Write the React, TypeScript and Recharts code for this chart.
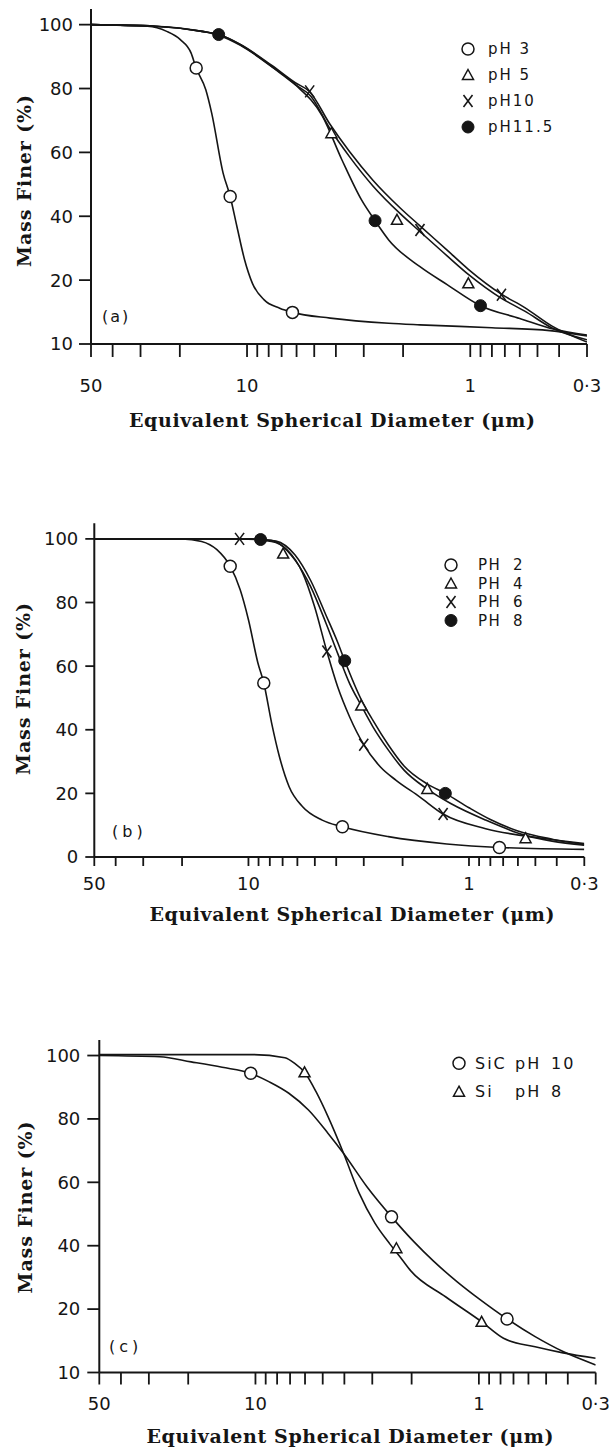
import React from "react";
import { ComposedChart, Line, Scatter, XAxis, YAxis } from "recharts";

// [diameter (µm), mass finer (%)] pairs
type Pt = [number, number];

const diameterTicks = [50, 40, 30, 20, 10, 9, 8, 7, 6, 5, 4, 3, 2, 1, 0.9, 0.8, 0.7, 0.6, 0.5, 0.4, 0.3];
const diameterLabels: Record<string, string> = { "50": "50", "10": "10", "1": "1", "0.3": "0·3" };
const massTicks = [0, 20, 40, 60, 80, 100];

// === (a) ===
const aPh3Curve: Pt[] = [[50, 100], [27.9, 99.5], [22.9, 97.9], [19.9, 95.3], [17.8, 91.1], [16.9, 86.4], [15.3, 79.6], [14.4, 72.3], [12.8, 53.5], [11.9, 46.2], [11.1, 36.8], [10.25, 26.3], [9.46, 19.0], [8.38, 13.8], [7.14, 11.2], [6.26, 9.9], [4.24, 8.1], [2.32, 6.5], [1.68, 6.0], [0.8, 5.1], [0.44, 4.2], [0.3, 2.5]];
const aPh3Points: Pt[] = [[16.9, 86.4], [11.9, 46.2], [6.26, 9.9]];
const aPh5Curve: Pt[] = [[50, 100], [25.8, 99.5], [15.9, 97.9], [13.4, 96.7], [10.7, 93.5], [7.74, 86.8], [6.08, 81.2], [5.18, 77.6], [4.25, 67.4], [3.47, 58.6], [2.73, 49.5], [2.06, 40.8], [1.68, 35.2], [1.27, 27.6], [1.02, 21.8], [0.725, 14.3], [0.57, 10.3], [0.43, 5.0], [0.3, 1.3]];
const aPh5Points: Pt[] = [[4.19, 66.0], [2.13, 38.9], [1.02, 19.0]];
const aPh10Curve: Pt[] = [[50, 100], [25.8, 99.5], [15.9, 97.9], [13.4, 96.9], [10.7, 93.8], [7.74, 87.2], [6.08, 81.8], [5.24, 79.0], [4.25, 68.8], [3.47, 60.2], [2.73, 51.3], [2.06, 42.6], [1.68, 37.0], [1.27, 29.4], [1.02, 23.4], [0.725, 15.6], [0.57, 11.4], [0.43, 5.6], [0.3, 0.6]];
const aPh10Points: Pt[] = [[5.24, 79.1], [1.68, 35.7], [0.725, 15.4]];
const aPh115Curve: Pt[] = [[50, 100], [25.8, 99.5], [15.9, 97.9], [13.4, 96.9], [10.7, 93.7], [7.74, 86.9], [6.08, 81.2], [4.59, 71.3], [3.76, 57.7], [3.07, 45.1], [2.67, 38.6], [2.32, 32.6], [1.68, 24.2], [1.27, 18.6], [0.9, 12.0], [0.6, 8.0], [0.42, 4.6], [0.3, 2.8]];
const aPh115Points: Pt[] = [[13.4, 96.9], [2.67, 38.6], [0.9, 12.0]];
const aLegend = [["pH 3"], ["pH 5"], ["pH10"], ["pH11.5"]];

// === (b) ===
const bPh2Curve: Pt[] = [[50, 100], [20, 100], [16.3, 99.2], [13.9, 96.6], [12.1, 91.4], [10.9, 84.0], [10.0, 74.6], [9.06, 61.0], [8.52, 54.7], [7.85, 42.1], [7.24, 31.6], [6.54, 22.1], [5.68, 15.8], [4.63, 11.6], [3.75, 9.5], [2.32, 6.4], [1.26, 4.1], [0.728, 3.0], [0.3, 2.4]];
const bPh2Points: Pt[] = [[12.1, 91.4], [8.52, 54.7], [3.75, 9.5], [0.728, 3.0]];
const bPh4Curve: Pt[] = [[50, 100], [20, 100], [10, 100], [7.86, 99.5], [6.16, 93.4], [5.23, 85.1], [4.45, 73.5], [3.94, 64.0], [3.48, 54.6], [3.08, 47.6], [2.73, 41.0], [2.32, 33.6], [1.97, 27.3], [1.55, 21.4], [1.21, 16.8], [0.84, 11.6], [0.554, 6.8], [0.42, 5.0], [0.3, 3.7]];
const bPh4Points: Pt[] = [[6.96, 95.4], [3.08, 47.6], [1.545, 21.4], [0.554, 5.9]];
const bPh6Curve: Pt[] = [[50, 100], [20, 100], [10.97, 100], [7.86, 99.2], [6.68, 96.6], [5.68, 89.3], [5.02, 78.8], [4.41, 64.6], [3.94, 53.5], [3.48, 44.1], [3.0, 35.3], [2.52, 28.3], [2.14, 24.1], [1.68, 19.0], [1.31, 13.5], [0.84, 8.9], [0.456, 5.8], [0.3, 4.2]];
const bPh6Points: Pt[] = [[10.97, 100], [4.41, 64.6], [3.0, 35.3], [1.31, 13.5]];
const bPh8Curve: Pt[] = [[50, 100], [20, 100], [10, 100], [8.81, 99.8], [7.5, 99.3], [6.16, 95.0], [5.23, 87.0], [4.45, 76.0], [3.94, 67.5], [3.66, 61.7], [3.08, 49.5], [2.73, 43.0], [2.32, 35.2], [1.97, 28.6], [1.55, 23.0], [1.28, 20.0], [1.0, 15.5], [0.8, 11.8], [0.6, 8.2], [0.42, 5.6], [0.3, 3.9]];
const bPh8Points: Pt[] = [[8.81, 99.8], [3.66, 61.7], [1.28, 20.0]];
const bLegend = [["PH", "2"], ["PH", "4"], ["PH", "6"], ["PH", "8"]];

// === (c) ===
const cSicCurve: Pt[] = [[50, 100], [26.8, 99.6], [19.4, 98.0], [14.1, 96.3], [10.5, 94.4], [8.67, 91.7], [7.09, 88.1], [5.79, 82.8], [4.74, 75.5], [4.03, 69.1], [3.17, 58.6], [2.46, 49.1], [1.95, 41.2], [1.6, 35.2], [1.25, 28.6], [0.984, 22.9], [0.748, 16.9], [0.56, 11.3], [0.42, 6.6], [0.3, 2.4]];
const cSicPoints: Pt[] = [[10.5, 94.4], [2.46, 49.1], [0.748, 16.9]];
const cSiCurve: Pt[] = [[50, 100.3], [10.2, 100.3], [7.38, 99.3], [6.67, 97.5], [6.03, 94.7], [5.35, 88.5], [4.74, 80.8], [4.03, 69.1], [3.43, 56.5], [2.92, 47.1], [2.5, 40.5], [2.2, 35.5], [2.03, 32.3], [1.41, 23.9], [0.972, 16.0], [0.776, 10.8], [0.56, 8.1], [0.42, 6.2], [0.3, 4.5]];
const cSiPoints: Pt[] = [[6.03, 94.7], [2.34, 39.2], [0.972, 16.0]];
const cLegend = [["SiC", "pH", "10"], ["Si", "pH", "8"]];

const INK = "#151515";
const rows = (pts: Pt[]) => pts.map(([d, m]) => ({ d, m }));

function OpenCircle(p: any) {
  return <circle cx={p.cx} cy={p.cy} r={6} fill="#fff" stroke={INK} strokeWidth={1.5} />;
}
function Disc(p: any) {
  return <circle cx={p.cx} cy={p.cy} r={6} fill={INK} stroke={INK} strokeWidth={1} />;
}
function Triangle(p: any) {
  const { cx, cy } = p;
  return (
    <polygon
      points={`${cx},${cy - 5.5} ${cx + 5.5},${cy + 4.5} ${cx - 5.5},${cy + 4.5}`}
      fill="#fff"
      stroke={INK}
      strokeWidth={1.5}
    />
  );
}
function Cross(p: any) {
  const { cx, cy } = p;
  return (
    <g stroke={INK} strokeWidth={1.6}>
      <line x1={cx - 4.5} y1={cy - 6} x2={cx + 4.5} y2={cy + 6} />
      <line x1={cx + 4.5} y1={cy - 6} x2={cx - 4.5} y2={cy + 6} />
    </g>
  );
}

// recharts clones label elements with its own x/y, so positions go in other props
function XTitle({ tx, ty, len }: { tx: number; ty: number; len: number }) {
  return (
    <text x={tx} y={ty} textAnchor="middle" textLength={len} fontFamily="DejaVu Serif" fontWeight="bold" fontSize={19} fill={INK}>
      Equivalent Spherical Diameter (μm)
    </text>
  );
}
function YTitle({ tx, ty }: { tx: number; ty: number }) {
  return (
    <text
      transform={`translate(${tx},${ty}) rotate(-90)`}
      textAnchor="middle"
      dominantBaseline="central"
      textLength={172}
      fontFamily="DejaVu Serif"
      fontWeight="bold"
      fontSize={19}
      fill={INK}
    >
      Mass Finer (%)
    </text>
  );
}

type Series = { curve: Pt[]; points: Pt[]; Marker: (p: any) => JSX.Element };

type PanelProps = {
  top: number;
  height: number;
  plotTop: number;
  plotBottom: number;
  plotLeft: number;
  plotRight: number;
  yMax: number;
  zeroLabel: string;
  xTickSize: number;
  xTickMargin: number;
  yTickSize: number;
  yTickMargin: number;
  series: Series[];
  title: { tx: number; ty: number; len: number };
  yTitle: { tx: number; ty: number };
  legend: string[][];
  legendCols: number[];
  legendRows: number[];
  legendSymbolX: number;
  legendFont: number;
  legendSpacing: number;
  tag: { text: string; x: number; y: number; spacing: number };
};

function Panel(p: PanelProps) {
  const tickStyle = { fill: INK, fontSize: 18, fontFamily: "DejaVu Sans" };
  return (
    <div style={{ position: "absolute", left: 0, top: p.top, width: 609, height: p.height }}>
      <ComposedChart
        width={609}
        height={p.height}
        margin={{ top: p.plotTop, right: 609 - p.plotRight, bottom: 0, left: 0 }}
      >
        <XAxis
          dataKey="d"
          type="number"
          scale="log"
          domain={[0.3, 50]}
          reversed
          allowDataOverflow
          ticks={diameterTicks}
          interval={0}
          height={p.height - p.plotBottom}
          tickFormatter={(v: number) => diameterLabels[String(v)] ?? ""}
          tick={tickStyle}
          tickSize={p.xTickSize}
          tickMargin={p.xTickMargin}
          axisLine={{ stroke: INK, strokeWidth: 2 }}
          tickLine={{ stroke: INK, strokeWidth: 1.8 }}
          label={<XTitle {...p.title} />}
        />
        <YAxis
          type="number"
          domain={[0, p.yMax]}
          allowDataOverflow
          ticks={massTicks}
          interval={0}
          width={p.plotLeft}
          tickFormatter={(v: number) => (v === 0 ? p.zeroLabel : String(v))}
          tick={tickStyle}
          tickSize={p.yTickSize}
          tickMargin={p.yTickMargin}
          axisLine={{ stroke: INK, strokeWidth: 2 }}
          tickLine={{ stroke: INK, strokeWidth: 1.8 }}
          label={<YTitle {...p.yTitle} />}
        />
        {p.series.map((s, i) => (
          <Line
            key={`l${i}`}
            data={rows(s.curve)}
            dataKey="m"
            type="monotone"
            stroke={INK}
            strokeWidth={1.6}
            dot={false}
            activeDot={false}
            isAnimationActive={false}
          />
        ))}
        {p.series.map((s, i) => (
          <Scatter
            key={`s${i}`}
            data={rows(s.points)}
            dataKey="m"
            shape={s.Marker}
            isAnimationActive={false}
          />
        ))}
      </ComposedChart>
      <svg
        width={609}
        height={p.height}
        style={{ position: "absolute", left: 0, top: 0, pointerEvents: "none" }}
      >
        {p.legend.map((cols, i) => {
          const y = p.legendRows[i];
          const M = p.series[i].Marker;
          return (
            <g key={i}>
              <M cx={p.legendSymbolX} cy={y} />
              {cols.map((t, j) => (
                <text
                  key={j}
                  x={p.legendCols[j]}
                  y={y + p.legendFont * 0.36}
                  fontFamily="DejaVu Sans"
                  fontSize={p.legendFont}
                  letterSpacing={p.legendSpacing}
                  fill={INK}
                >
                  {t}
                </text>
              ))}
            </g>
          );
        })}
        <text
          x={p.tag.x}
          y={p.tag.y}
          fontFamily="DejaVu Sans"
          fontSize={16}
          letterSpacing={p.tag.spacing}
          fill={INK}
        >
          {p.tag.text}
        </text>
      </svg>
    </div>
  );
}

export default function App() {
  return (
    <div style={{ position: "absolute", left: 0, top: 0, width: 609, height: 1450, background: "#fff" }}>
      <Panel
        top={0}
        height={440}
        plotTop={9}
        plotBottom={344}
        plotLeft={91}
        plotRight={587}
        yMax={104.9}
        zeroLabel="10"
        xTickSize={13}
        xTickMargin={22}
        yTickSize={12}
        yTickMargin={6}
        series={[
          { curve: aPh3Curve, points: aPh3Points, Marker: OpenCircle },
          { curve: aPh5Curve, points: aPh5Points, Marker: Triangle },
          { curve: aPh10Curve, points: aPh10Points, Marker: Cross },
          { curve: aPh115Curve, points: aPh115Points, Marker: Disc },
        ]}
        title={{ tx: 332, ty: 427, len: 406 }}
        yTitle={{ tx: 24, ty: 181 }}
        legend={aLegend}
        legendCols={[488]}
        legendRows={[49, 75, 101, 127]}
        legendSymbolX={468}
        legendFont={15}
        legendSpacing={2}
        tag={{ text: "(a)", x: 102, y: 322, spacing: 2 }}
      />
      <Panel
        top={440}
        height={500}
        plotTop={83.3}
        plotBottom={417}
        plotLeft={94.3}
        plotRight={584.3}
        yMax={104.9}
        zeroLabel="0"
        xTickSize={9}
        xTickMargin={11}
        yTickSize={9}
        yTickMargin={7}
        series={[
          { curve: bPh2Curve, points: bPh2Points, Marker: OpenCircle },
          { curve: bPh4Curve, points: bPh4Points, Marker: Triangle },
          { curve: bPh6Curve, points: bPh6Points, Marker: Cross },
          { curve: bPh8Curve, points: bPh8Points, Marker: Disc },
        ]}
        title={{ tx: 352, ty: 481, len: 405 }}
        yTitle={{ tx: 23, ty: 249 }}
        legend={bLegend}
        legendCols={[478, 513]}
        legendRows={[125, 143.5, 162, 180.5]}
        legendSymbolX={451}
        legendFont={15}
        legendSpacing={1.5}
        tag={{ text: "(b)", x: 112, y: 397, spacing: 4 }}
      />
      <Panel
        top={940}
        height={510}
        plotTop={100}
        plotBottom={432.5}
        plotLeft={99.3}
        plotRight={595.7}
        yMax={104.9}
        zeroLabel="10"
        xTickSize={12}
        xTickMargin={12.5}
        yTickSize={12}
        yTickMargin={7}
        series={[
          { curve: cSicCurve, points: cSicPoints, Marker: OpenCircle },
          { curve: cSiCurve, points: cSiPoints, Marker: Triangle },
        ]}
        title={{ tx: 350, ty: 503, len: 407 }}
        yTitle={{ tx: 25, ty: 267.5 }}
        legend={cLegend}
        legendCols={[475, 515, 551]}
        legendRows={[123.3, 151.7]}
        legendSymbolX={459}
        legendFont={16}
        legendSpacing={2}
        tag={{ text: "(c)", x: 109, y: 412, spacing: 4 }}
      />
    </div>
  );
}
